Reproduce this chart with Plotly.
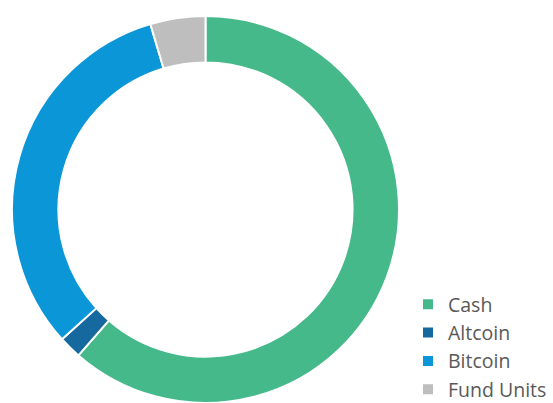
import plotly.graph_objects as go

labels = ["Cash", "Altcoin", "Bitcoin", "Fund Units"]
values = [61.4, 1.9, 32.1, 4.6]
colors = ["#45B98A", "#16699F", "#0B96D8", "#BEBEBE"]

W, H = 553, 403
fig = go.Figure(go.Pie(
    labels=labels,
    values=values,
    hole=0.76,
    sort=False,
    direction="clockwise",
    rotation=0,
    textinfo="none",
    hoverinfo="label+percent",
    marker=dict(colors=colors, line=dict(color="white", width=2)),
    domain=dict(x=[12 / W, 399 / W], y=[0, 387 / H]),
))
fig.update_layout(
    width=W, height=H,
    margin=dict(l=0, r=0, t=0, b=0, autoexpand=False),
    paper_bgcolor="white",
    showlegend=True,
    legend=dict(
        x=408 / W, xanchor="left",
        y=-6 / H, yanchor="bottom",
        font=dict(family="Open Sans", size=19.5, color="#595959"),
        tracegroupgap=0,
        bgcolor="rgba(0,0,0,0)",
    ),
)
fig.write_html("out.html")
